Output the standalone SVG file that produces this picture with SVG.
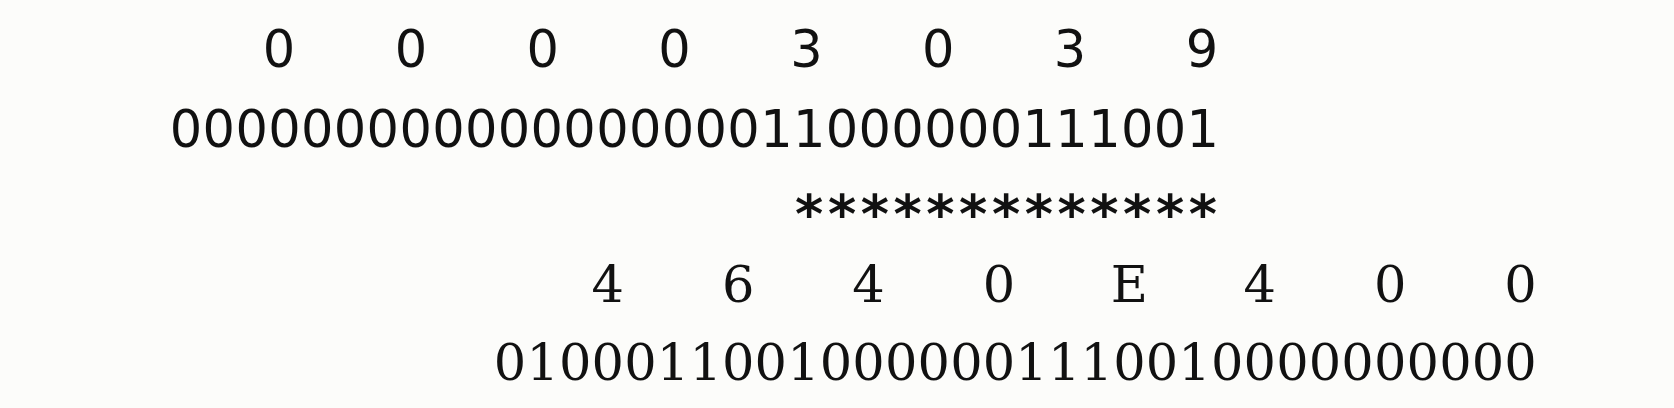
<svg xmlns="http://www.w3.org/2000/svg" width="1674" height="408" viewBox="0 0 1674 408">
<style>
.sans{font-family:"DejaVu Sans","Liberation Sans",sans-serif;font-size:51px;fill:#111}
.serif{font-family:"DejaVu Serif","Liberation Serif",serif;font-size:51px;fill:#111}
.bits-a{letter-spacing:0.35px}
.bits-b{letter-spacing:0.15px}
.mid{text-anchor:middle}
.star{font-family:"DejaVu Sans","Liberation Sans",sans-serif;font-weight:bold;font-size:54px;fill:#111;text-anchor:middle}
</style>
<rect x="0" y="0" width="1674" height="408" fill="#fcfcfa"/>
<g id="int-value">
<text id="int-hex" class="sans mid" x="279 410.9 542.7 674.6 806.4 938.3 1070.1 1202" y="67">00003039</text>
<text id="int-bits" class="sans bits-a" x="169.8" y="147">00000000000000000011000000111001</text>
</g>
<g id="mantissa-marks">
<text class="star" x="809.2 842 874.8 907.6 940.4 973.2 1006 1038.8 1071.6 1104.4 1137.2 1170 1202.8" y="233">*************</text>
</g>
<g id="float-value">
<text id="float-hex" class="serif mid" x="607.8 738.2 868.6 999 1129.4 1259.8 1390.2 1520.6" y="302">4640E400</text>
<text id="float-bits" class="serif bits-b" x="493.8" y="380">01000110010000001110010000000000</text>
</g>
</svg>
